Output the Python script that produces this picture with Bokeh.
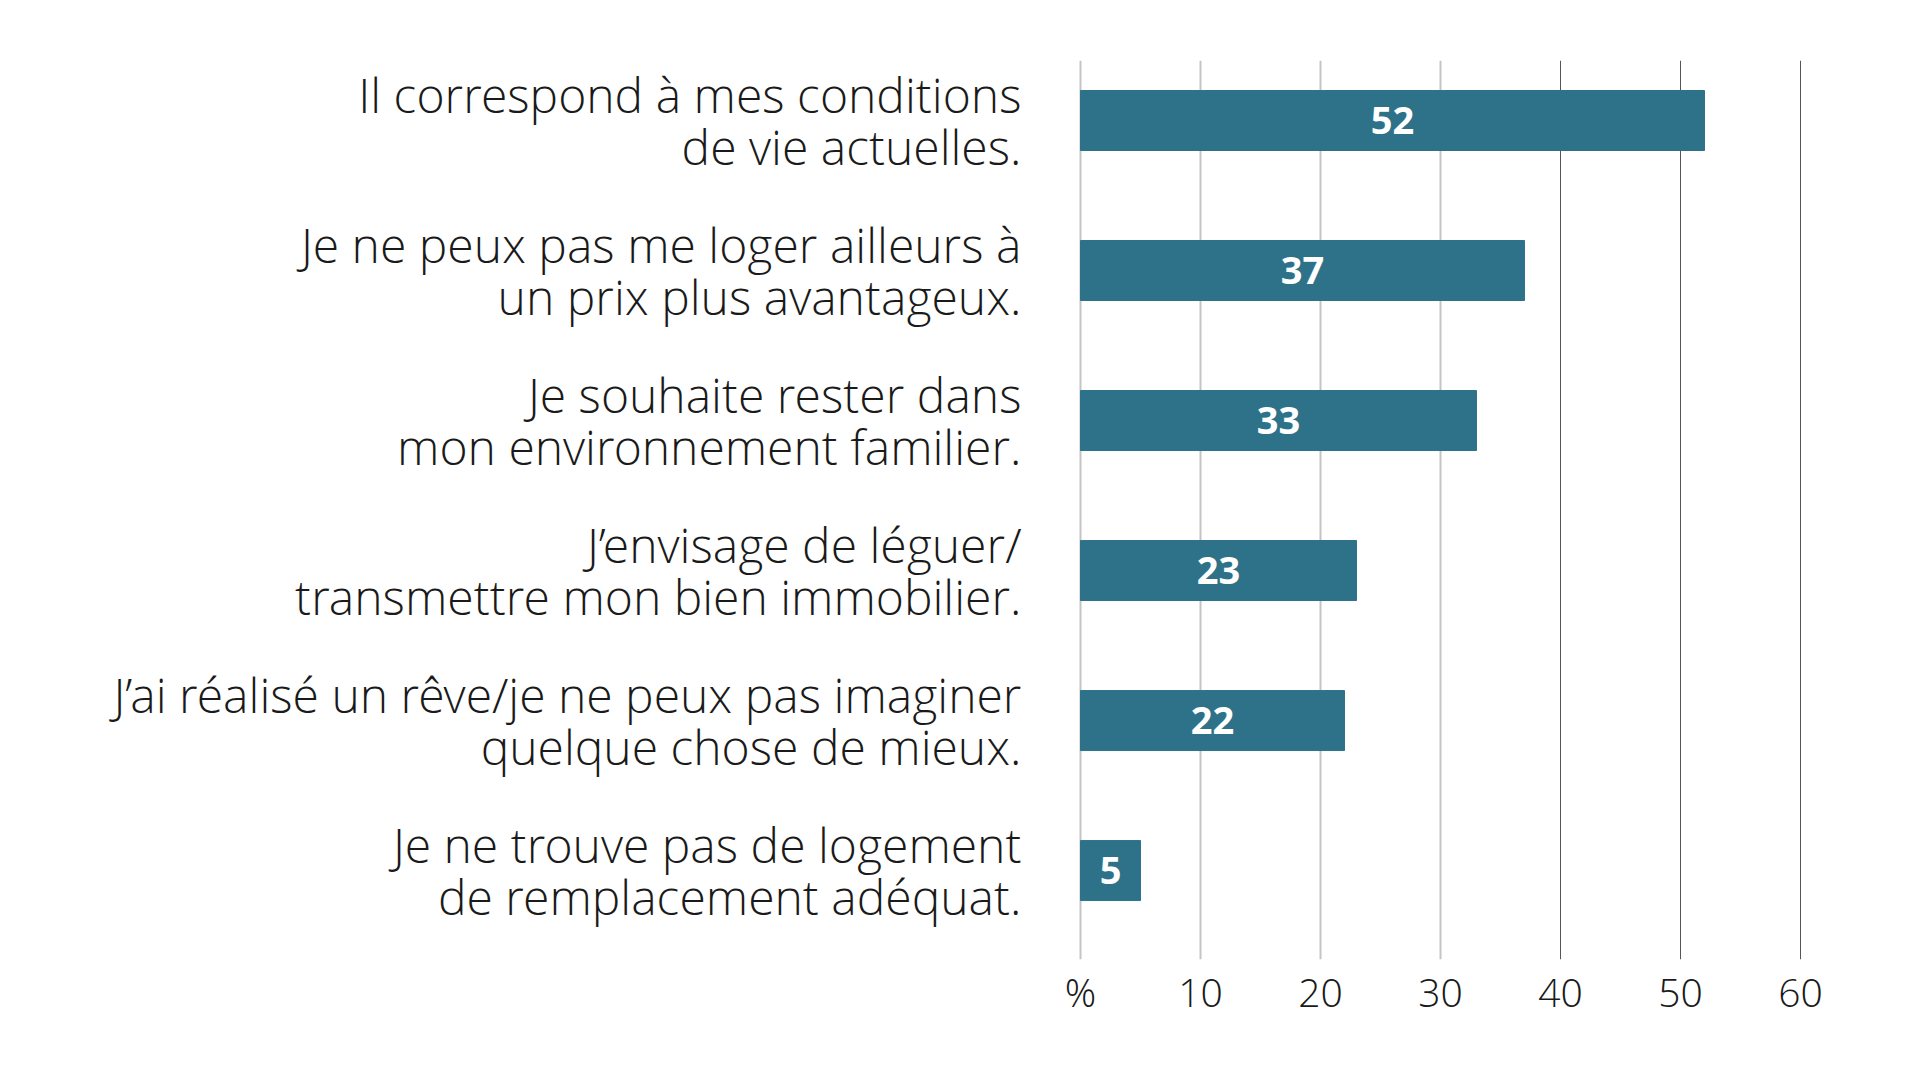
from bokeh.plotting import figure
from bokeh.models import ColumnDataSource, Range1d, FixedTicker, Grid
from bokeh.core.properties import value
from bokeh.embed import file_html
from bokeh.resources import INLINE

categories = [
    "Il correspond à mes conditions\nde vie actuelles.",
    "Je ne peux pas me loger ailleurs à\nun prix plus avantageux.",
    "Je souhaite rester dans\nmon environnement familier.",
    "J’envisage de léguer/\ntransmettre mon bien immobilier.",
    "J’ai réalisé un rêve/je ne peux pas imaginer\nquelque chose de mieux.",
    "Je ne trouve pas de logement\nde remplacement adéquat.",
]
values = [52, 37, 33, 23, 22, 5]
tick_values = [0, 10, 20, 30, 40, 50, 60]
tick_labels = {0: "%"}

LIGHT = "Open Sans Light, Lato Light, Roboto Light, Open Sans"
BAR = "#2e728a"

src = ColumnDataSource(dict(
    y=list(range(len(values))),
    v=values,
    mid=[v / 2 for v in values],
    lab=[str(v) for v in values],
    cat=categories,
))

p = figure(width=1904, height=1064, output_backend="svg", toolbar_location=None,
           x_range=Range1d(-90.0, 68.667), y_range=Range1d(5.593, -0.4))
p.min_border = 0
p.min_border_top = 60
p.min_border_bottom = 105
p.outline_line_color = None
p.background_fill_color = "white"
p.border_fill_color = "white"
p.yaxis.visible = False
p.xgrid.visible = False
p.ygrid.visible = False

p.add_layout(Grid(dimension=0, ticker=FixedTicker(ticks=[0, 10, 20, 30]),
                  grid_line_color="#c4c4c4", grid_line_width=2))
p.add_layout(Grid(dimension=0, ticker=FixedTicker(ticks=[40, 50, 60]),
                  grid_line_color="#555555", grid_line_width=1))

ax = p.xaxis[0]
ax.ticker = FixedTicker(ticks=tick_values)
ax.major_label_overrides = tick_labels
ax.axis_line_color = None
ax.major_tick_line_color = None
ax.minor_tick_line_color = None
ax.major_tick_in = 0
ax.major_tick_out = 0
ax.major_label_standoff = 5
ax.major_label_text_font = LIGHT
ax.major_label_text_font_size = "39px"
ax.major_label_text_color = "#1a1a1a"

p.hbar(y="y", left=0, right="v", height=0.4, color=BAR, source=src)

p.text(x="mid", y="y", text="lab", source=src, text_color="white",
       text_font=value("Open Sans"), text_font_style="bold", text_font_size="38px",
       text_align="center", text_baseline="middle")

p.text(x=0, y="y", text="cat", source=src, x_offset=-59, text_color="#1a1a1a",
       text_font=value(LIGHT), text_font_size="48px", text_line_height=0.81,
       text_align="right", text_baseline="middle")

open("out.html", "w").write(file_html(p, INLINE))
